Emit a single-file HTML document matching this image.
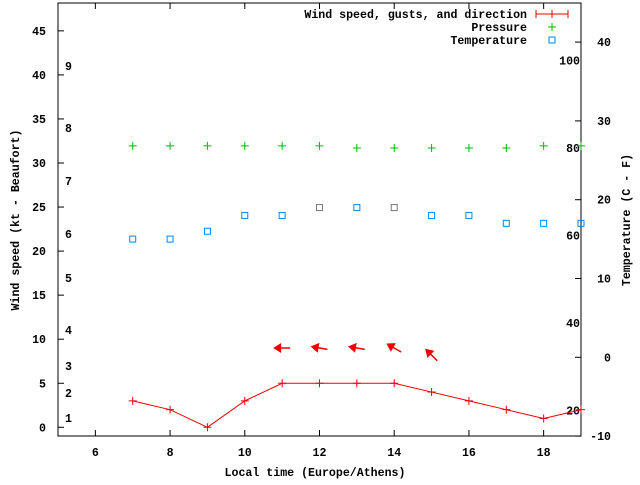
<!DOCTYPE html>
<html><head><meta charset="utf-8"><style>
body{margin:0;background:#fff}
svg text{font-family:"Liberation Mono",monospace;font-size:11.6px;font-weight:bold;fill:#000}
</style></head><body>
<svg id="chart" width="640" height="480" xmlns="http://www.w3.org/2000/svg"></svg>
<script>
const hours=[7,8,9,10,11,12,13,14,15,16,17,18,19];
const windKt=[3,2,0,3,5,5,5,5,4,3,2,1,2];
const pressure=[80.5,80.5,80.5,80.5,80.5,80.5,80,80,80,80,80,80.5,80.5];
const tempC=[15,15,16,18,18,19,19,19,18,18,17,17,17];
const arrowHours=[11,12,13,14,15];
const arrowDir=[90,100,100,120,135];
const arrowKt=[9,9,9,9,8.2];
const xTicks=[6,8,10,12,14,16,18];
const yTicks=[0,5,10,15,20,25,30,35,40,45];
const y2Ticks=[-10,0,10,20,30,40];
const beaufortLabels=["1","2","3","4","5","6","7","8","9"];
const beaufortY=[418,393,366,330,278,234,181,128,66];
const pressureTicks=[20,40,60,80,100];

const L=58,R=581,T=3,B=436;
const X=v=>L+(v-5)*(R-L)/14;
const Y=v=>427.3-v*8.81;
const Y2=v=>357.3-v*7.88;
const YP=v=>148-(v-80)*4.375;
const svg=document.getElementById('chart');
const NS='http://www.w3.org/2000/svg';
function mk(tag,attrs,parent){const e=document.createElementNS(NS,tag);for(const k in attrs)e.setAttribute(k,attrs[k]);(parent||svg).appendChild(e);return e;}

let fr=mk('rect',{x:L,y:T,width:R-L,height:B-T,fill:'none',stroke:'#000','stroke-width':1});



xTicks.forEach(v=>{
  const x=X(v);
  let t=mk('line',{x1:x,y1:B,x2:x,y2:B-6,stroke:'#000'});
  
  
  let t2=mk('line',{x1:x,y1:T,x2:x,y2:T+6,stroke:'#000'});
  
  
  let tx=mk('text',{x:x,y:B+20,'text-anchor':'middle'});tx.textContent=v;
  
  
});
yTicks.forEach(v=>{
  const y=Y(v);
  let t=mk('line',{x1:L,y1:y,x2:L+6,y2:y,stroke:'#000'});
  
  
  let tx=mk('text',{x:L-12,y:y+4,'text-anchor':'end'});tx.textContent=v;
  
  
});
y2Ticks.forEach(v=>{
  const y=Y2(v);
  let t=mk('line',{x1:R,y1:y,x2:R-6,y2:y,stroke:'#000'});
  
  
  let tx=mk('text',{x:R+30,y:y+4,'text-anchor':'end'});tx.textContent=v;
  
  
});
beaufortLabels.forEach((s,i)=>{
  let tx=mk('text',{x:65,y:beaufortY[i]+4});tx.textContent=s;
  
  
});
pressureTicks.forEach(v=>{
  let tx=mk('text',{x:580,y:YP(v)+4,'text-anchor':'end'});tx.textContent=v;
  
  
});

let xt=mk('text',{x:315,y:476,'text-anchor':'middle'});xt.textContent='Local time (Europe/Athens)';


let yt=mk('text',{x:0,y:0,'text-anchor':'middle',transform:'translate(19,220) rotate(-90)'});yt.textContent='Wind speed (kt - Beaufort)';


let y2t=mk('text',{x:0,y:0,'text-anchor':'middle',transform:'translate(630,220) rotate(-90)'});y2t.textContent='Temperature (C - F)';



const clip=mk('clipPath',{id:'pc'});mk('rect',{x:L,y:T,width:R-L,height:B-T},clip);
let pl=mk('polyline',{points:hours.map((h,i)=>X(h)+','+Y(windKt[i])).join(' '),fill:'none',stroke:'#e00','stroke-width':1,'clip-path':'url(#pc)'});


hours.forEach((h,i)=>{
  const x=X(h),y=Y(windKt[i]);
  if(x>R)return;
  let p=mk('path',{d:`M${x-4},${y}h8M${x},${y-4}v8`,stroke:'#e00'});
  
  
});
hours.forEach((h,i)=>{
  const x=X(h),y=YP(pressure[i]);
  let p=mk('path',{d:`M${x-4},${y}h8M${x},${y-4}v8`,stroke:'#0b0'});
  
  
});
hours.forEach((h,i)=>{
  const x=X(h),y=Y2(tempC[i]);
  let p=mk('rect',{x:x-3,y:y-3,width:6,height:6,fill:'none',stroke:(h===12||h===14)?'#777':'#08f'});
  
  
});
arrowHours.forEach((h,i)=>{
  const cx=X(h),cy=Y(arrowKt[i]);
  const a=arrowDir[i]*Math.PI/180;
  const ux=-Math.sin(a),uy=Math.cos(a);
  const tx=cx-ux*8,ty=cy-uy*8,ex=cx+ux*7,ey=cy+uy*7;
  const px=-uy,py=ux;
  const g=mk('g',{});
  
  
  mk('line',{x1:tx,y1:ty,x2:ex,y2:ey,stroke:'#e00','stroke-width':1.5},g);
  mk('polygon',{points:`${ex+ux*2},${ey+uy*2} ${ex-ux*6+px*5},${ey-uy*6+py*5} ${ex-ux*6-px*5},${ey-uy*6-py*5}`,fill:'#e00'},g);
});

const lg=[['Wind speed, gusts, and direction',14],['Pressure',27],['Temperature',40]];
lg.forEach((e,i)=>{
  let tx=mk('text',{x:527,y:e[1]+4,'text-anchor':'end'});tx.textContent=e[0];
  
  
});
let l1=mk('path',{d:'M536,14h32M536,10v8M568,10v8M552,10v8',stroke:'#e00'});


let l2=mk('path',{d:'M548,27h8M552,23v8',stroke:'#0b0'});


let l3=mk('rect',{x:549,y:37,width:6,height:6,fill:'none',stroke:'#08f'});


</script>
</body></html>
